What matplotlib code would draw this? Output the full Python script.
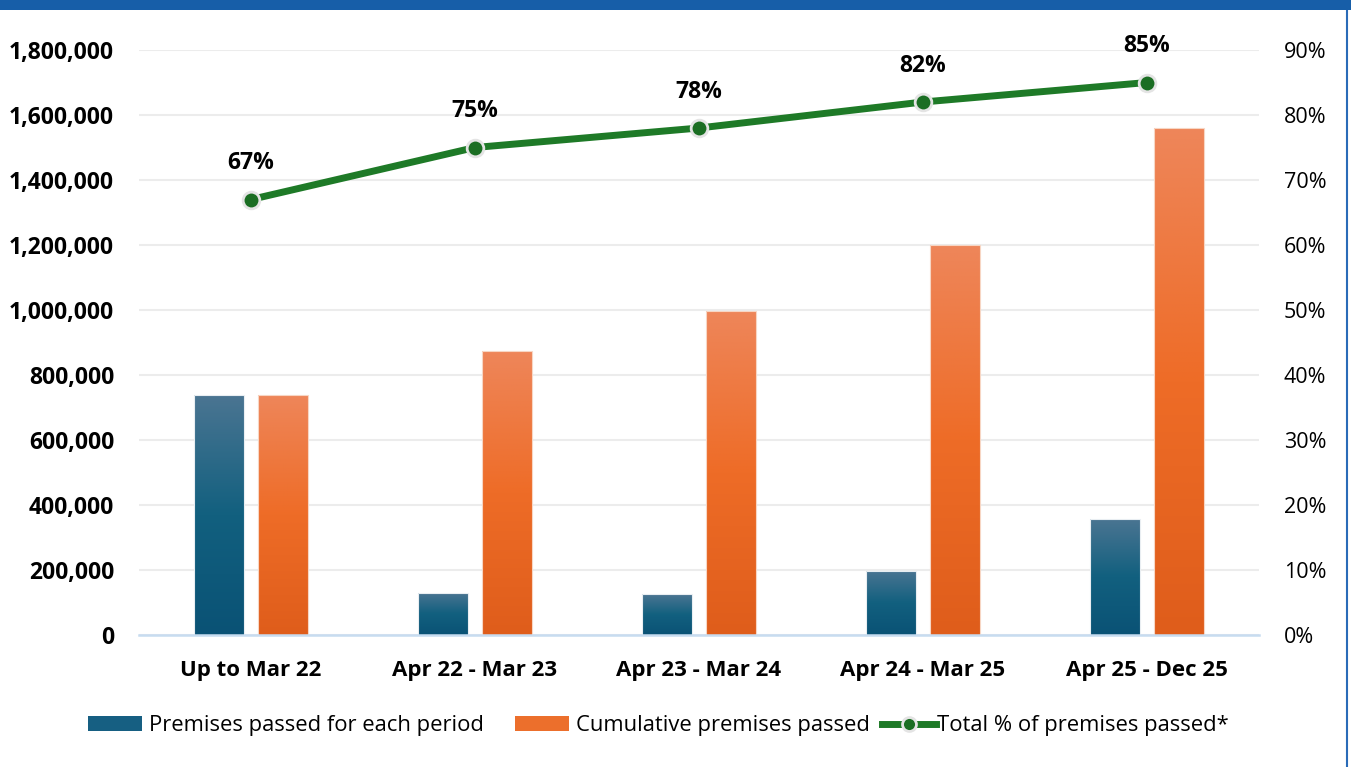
import numpy as np
import matplotlib
matplotlib.use('Agg')
import matplotlib.pyplot as plt
from matplotlib.colors import LinearSegmentedColormap
from matplotlib.ticker import FuncFormatter, FixedLocator
from matplotlib.lines import Line2D
from matplotlib.patches import Patch, Rectangle

categories = ['Up to Mar 22', 'Apr 22 - Mar 23', 'Apr 23 - Mar 24', 'Apr 24 - Mar 25', 'Apr 25 - Dec 25']
period = [740000, 130000, 125000, 198000, 358000]
cumulative = [740000, 873000, 998000, 1200000, 1560000]
pct = [67, 75, 78, 82, 85]
left_ticks = [0, 200000, 400000, 600000, 800000, 1000000, 1200000, 1400000, 1600000, 1800000]
right_ticks = [0, 10, 20, 30, 40, 50, 60, 70, 80, 90]
series_names = ['Premises passed for each period', 'Cumulative premises passed', 'Total % of premises passed*']

plt.rcParams['font.family'] = ['Open Sans', 'DejaVu Sans']

W, H = 1351, 767
fig = plt.figure(figsize=(W / 100, H / 100), dpi=100)
ax = fig.add_axes([139 / W, (H - 635) / H, (1259 - 139) / W, (635 - 50) / H])

blue_cmap = LinearSegmentedColormap.from_list('b', ['#0a5275', '#12607f', '#4b7592'])
orange_cmap = LinearSegmentedColormap.from_list('o', ['#df5d1b', '#ee6c27', '#ee865a'])

x = np.arange(len(categories))
bw = 0.223
off = 0.143
b1 = ax.bar(x - off, period, bw, facecolor='none', edgecolor='#e9eef2', lw=0.8, zorder=3)
b2 = ax.bar(x + off, cumulative, bw, facecolor='none', edgecolor='#f7d6c4', lw=0.8, zorder=3)

grad = np.linspace(1, 0, 256).reshape(-1, 1)
for bars, cmap in ((b1, blue_cmap), (b2, orange_cmap)):
    for r in bars:
        x0, y0, w, h = r.get_x(), r.get_y(), r.get_width(), r.get_height()
        im = ax.imshow(grad, extent=[x0, x0 + w, y0, y0 + h], aspect='auto', cmap=cmap,
                       origin='upper', zorder=2, interpolation='bilinear')
        im.set_clip_path(r)

ax.set_xlim(-0.5, len(categories) - 0.5)
ax.set_ylim(0, 1800000)
ax.yaxis.set_major_locator(FixedLocator(left_ticks))
ax.yaxis.set_major_formatter(FuncFormatter(lambda v, p: f'{int(v):,}'))
ax.grid(axis='y', color='#ececec', lw=1.5, zorder=0)
ax.set_axisbelow(True)
for s in ['top', 'right', 'left']:
    ax.spines[s].set_visible(False)
ax.spines['bottom'].set_color('#c7dcf0')
ax.spines['bottom'].set_linewidth(1.8)
ax.spines['bottom'].set_zorder(4)
ax.set_xticks(x)
ax.set_xticklabels(categories, fontsize=16, fontweight='bold')
ax.tick_params(axis='x', length=0, pad=18)
ax.tick_params(axis='y', length=0, pad=18, labelsize=16.5)
for t in ax.get_yticklabels():
    t.set_fontweight('bold')

ax2 = ax.twinx()
ax2.set_ylim(0, 90)
ax2.yaxis.set_major_locator(FixedLocator(right_ticks))
ax2.yaxis.set_major_formatter(FuncFormatter(lambda v, p: f'{int(v)}%'))
ax2.tick_params(axis='y', length=0, pad=18, labelsize=15.5)
for s in ax2.spines.values():
    s.set_visible(False)
ax2.plot(x, pct, color='#1e7a27', lw=5, marker='o', ms=12, mfc='#1b6e23',
         mec='#e4e4e4', mew=2, zorder=5, clip_on=False, solid_capstyle='round')
for xi, p in zip(x, pct):
    ax2.annotate(f'{p}%', (xi, p), xytext=(0, 26), textcoords='offset points',
                 ha='center', va='center', fontsize=16.5, fontweight='bold', annotation_clip=False)

handles = [Patch(facecolor='#165f82', edgecolor='none'),
           Patch(facecolor='#ec6f2c', edgecolor='none'),
           Line2D([0], [0], color='#1e7a27', lw=5, marker='o', ms=10, mfc='#1b6e23', mec='#e4e4e4', mew=2)]
leg_x = [88, 515, 882]
leg_pad = [0.3, 0.3, 0.05]
for h, name, lx, tp in zip(handles, series_names, leg_x, leg_pad):
    lg = fig.legend([h], [name], loc='center left', bbox_to_anchor=(lx / W, (H - 726) / H),
                    frameon=False, fontsize=15.8, handlelength=54 / (15.8 * 100 / 72),
                    handleheight=0.65, handletextpad=tp, borderpad=0, borderaxespad=0)

# frame
fig.patches.append(Rectangle((0, (H - 10) / H), 1, 10 / H, transform=fig.transFigure,
                             facecolor='#175ea8', edgecolor='none', zorder=10))
fig.add_artist(Line2D([1347 / W, 1347 / W], [0, 1], transform=fig.transFigure, color='#2a6bb8', lw=1.5))

fig.savefig('out.png', dpi=100, facecolor='white')
